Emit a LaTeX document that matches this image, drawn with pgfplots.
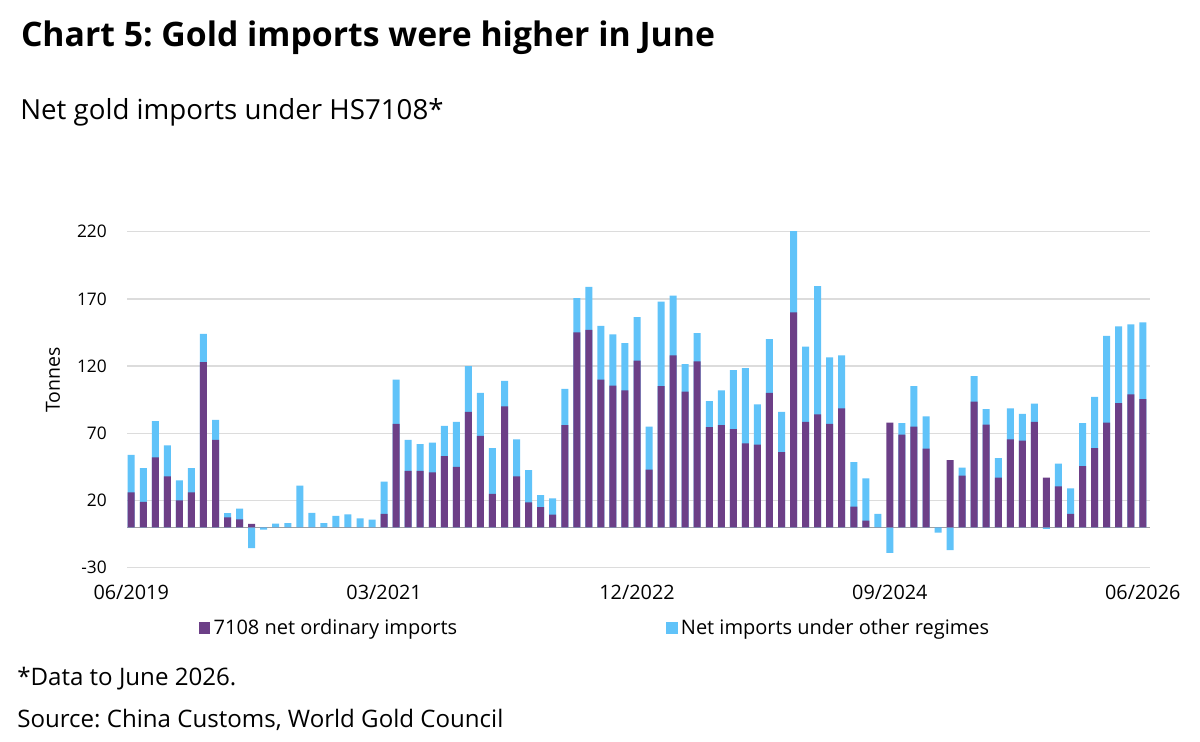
\documentclass[border=0pt]{standalone}
\usepackage{fontspec}
\setmainfont{Open Sans}
\usepackage{pgfplots}
\pgfplotsset{compat=1.18}
\usepackage{pgfplotstable}
\frenchspacing
\definecolor{purp}{HTML}{6C3F87}
\definecolor{skyb}{HTML}{60C3F9}
\definecolor{gridgray}{HTML}{DCDCDC}
\definecolor{zerogray}{HTML}{A0A0A0}
\pgfplotstableread{
i P B
0 26 28
1 19 25
2 52 27
3 38 23
4 20 15
5 26 18
6 123 21
7 65 15
8 7.5 3
9 6 8
10 2.5 -15.5
11 0 -1.7
12 0 2.7
13 0 3.2
14 0 31
15 0 10.7
16 0 3.2
17 0 8.5
18 0 9.7
19 0 6.7
20 0 5.7
21 10 24
22 77 33
23 42 23
24 42 20
25 41 22
26 53 22.5
27 45 33.5
28 86 34
29 68 32
30 25 34
31 90 19
32 38 27.5
33 18.5 24
34 15 9
35 9.5 12
36 76 27
37 145 25.5
38 147 32
39 110 40
40 105.5 38
41 102 35
42 124 32.5
43 43 32
44 105 63
45 128 44.5
46 101 20.5
47 123.5 21
48 74.5 19.5
49 76 26
50 73 44
51 62.5 56
52 61.5 30
53 100 40
54 56 30
55 160 67.5
56 78.5 56
57 84 95.5
58 77 49.5
59 88.5 39.5
60 15.5 33
61 5 31.5
62 0 10
63 78 -19
64 69 8.5
65 75 30
66 58.5 24
67 0 -4
68 50 -17
69 38.5 6
70 93.5 19
71 76.5 11.5
72 37 14.5
73 65.5 23
74 64.5 20
75 78.5 13.5
76 37 -1.2
77 30.5 17
78 10 19
79 45.5 32
80 59 38
81 78 64.5
82 92.5 57
83 99 52
84 95.5 57
}\datatable

\begin{document}
\begin{tikzpicture}
\fill[white] (0pt,0pt) rectangle (720pt,-444.6pt);
\useasboundingbox (0pt,0pt) rectangle (720pt,-444.6pt);
\node[anchor=base west, inner sep=0pt, font=\bfseries\fontsize{20.25}{24}\selectfont] at (12.4pt,-27.6pt) {Chart 5: Gold imports were higher in June};
\node[anchor=base west, inner sep=0pt, font=\fontsize{16.6}{20}\selectfont] at (12pt,-71.4pt) {Net gold imports under HS7108*};
\node[anchor=base west, inner sep=0pt, font=\fontsize{14.45}{17}\selectfont] at (10.2pt,-411pt) {*Data to June 2026.};
\node[anchor=base west, inner sep=0pt, font=\fontsize{14.45}{17}\selectfont] at (10.2pt,-436.6pt) {Source: China Customs, World Gold Council};
\node[rotate=90, inner sep=0pt, font=\fontsize{11.7}{14}\selectfont] at (31.8pt,-228pt) {Tonnes};
\begin{axis}[
  at={(76.2pt,-340.6pt)}, anchor=south west,
  scale only axis, width=613.8pt, height=201.6pt,
  xmin=-0.35, xmax=84.6, ymin=-30, ymax=220,
  ytick={-30,20,70,120,170,220},
  xtick={0,21,42,63,84},
  xticklabels={06/2019,03/2021,12/2022,09/2024,06/2026},
  axis line style={draw=none},
  major tick length=0pt,
  ymajorgrids, grid style={draw=gridgray, line width=0.9pt},
  extra y ticks={0}, extra y tick labels={},
  extra y tick style={grid style={draw=zerogray, line width=0.7pt}},
  /pgf/number format/assume math mode=true,
  yticklabel style={font=\fontsize{10.4}{12}\selectfont, xshift=-8.6pt},
  xticklabel style={font=\fontsize{11.9}{14}\selectfont, yshift=-7pt},
  ybar, bar width=4.2pt, bar shift=0pt,
  legend columns=2,
  legend image code/.code={\fill[#1] (0pt,-3.5pt) rectangle (7pt,3.5pt);},
  legend style={at={(0.0697,-0.1795)}, anchor=west, draw=none, fill=none,
    font=\fontsize{12}{14}\selectfont, inner sep=0pt,
    /tikz/every even column/.append style={column sep=123.3pt}},
]
\addlegendimage{fill=purp, draw=none}
\addlegendentry{7108 net ordinary imports}
\addlegendimage{fill=skyb, draw=none}
\addlegendentry{Net imports under other regimes}
\addplot[fill=skyb, draw=none, forget plot] table[x=i, y expr={ifthenelse(\thisrow{B}<0,\thisrow{B},\thisrow{P}+\thisrow{B})}] {\datatable};
\addplot[fill=purp, draw=none, forget plot] table[x=i, y=P] {\datatable};
\end{axis}
\end{tikzpicture}
\end{document}
